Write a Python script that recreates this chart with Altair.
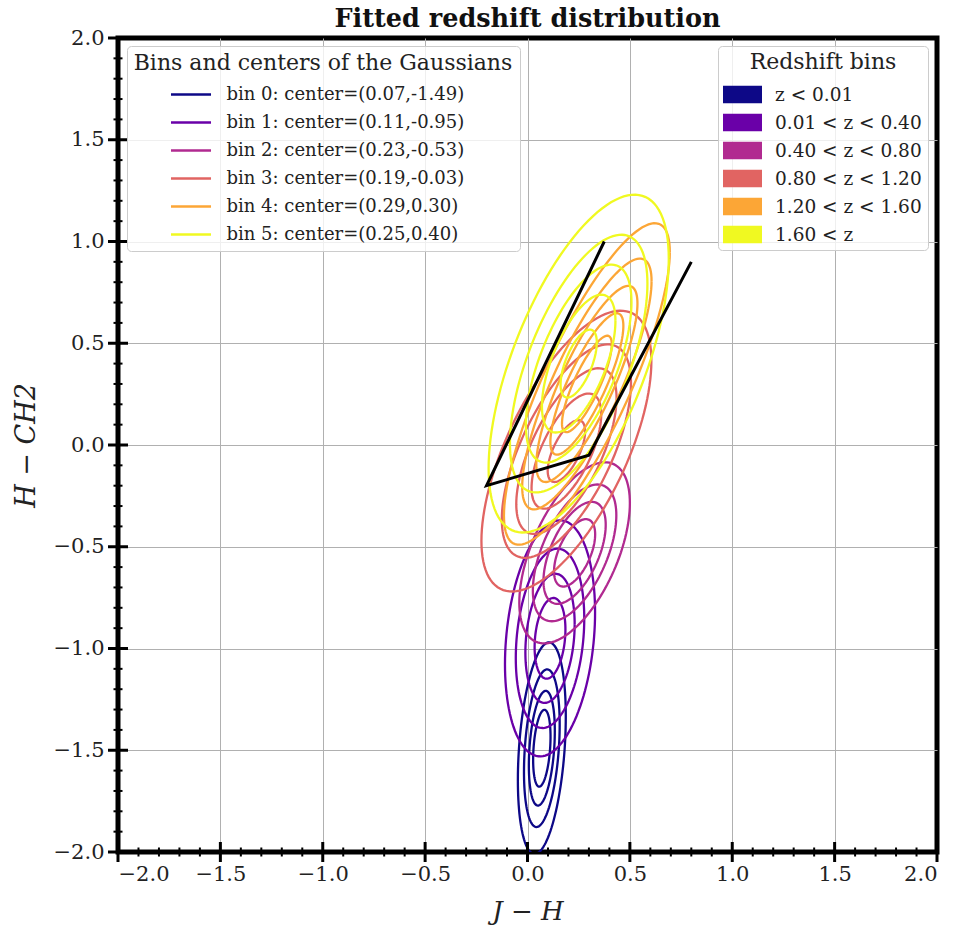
import numpy as np
import pandas as pd
import altair as alt

# ---------------- data ----------------
bin_labels = [
    "bin 0: center=(0.07,-1.49)",
    "bin 1: center=(0.11,-0.95)",
    "bin 2: center=(0.23,-0.53)",
    "bin 3: center=(0.19,-0.03)",
    "bin 4: center=(0.29,0.30)",
    "bin 5: center=(0.25,0.40)",
]
z_labels = ["z < 0.01", "0.01 < z < 0.40", "0.40 < z < 0.80",
            "0.80 < z < 1.20", "1.20 < z < 1.60", "1.60 < z"]
colors = ["#0d0887", "#6a00a8", "#b12a90", "#e16462", "#fca636", "#f0f921"]

center_x = [0.07, 0.11, 0.23, 0.19, 0.29, 0.25]
center_y = [-1.49, -0.95, -0.53, -0.03, 0.30, 0.40]
# half extents (x, y) of the outermost contour, and its tilt (correlation)
half_width = [0.117, 0.22, 0.27, 0.415, 0.405, 0.44]
half_height = [0.52, 0.58, 0.445, 0.69, 0.79, 0.83]
tilt = [0.30, 0.22, 0.55, 0.64, 0.82, 0.62]
# relative size of each contour with respect to the outermost one
contour_scales = [
    [1.0, 0.745, 0.542, 0.363],
    [1.0, 0.76, 0.547, 0.342],
    [1.0, 0.755, 0.563, 0.372],
    [1.0, 0.76, 0.59, 0.41, 0.22],
    [1.0, 0.78, 0.61, 0.44, 0.30],
    [1.0, 0.763, 0.586, 0.408, 0.201],
]

cut_x = [0.375, -0.2, 0.3, 0.8]
cut_y = [1.0, -0.2, -0.05, 0.9]

major_ticks = [-2.0, -1.5, -1.0, -0.5, 0.0, 0.5, 1.0, 1.5, 2.0]
minor_ticks = [round(-2.0 + 0.1 * k, 1) for k in range(41) if k % 5 != 0]

# ---------------- build tables ----------------
t = np.linspace(0, 2 * np.pi, 121)
rows = []
for b in range(6):
    for c, s in enumerate(contour_scales[b]):
        r = tilt[b]
        xs = center_x[b] + half_width[b] * s * np.cos(t)
        ys = center_y[b] + half_height[b] * s * (r * np.cos(t) + np.sqrt(1 - r * r) * np.sin(t))
        for i, (xx, yy) in enumerate(zip(xs, ys)):
            rows.append({"x": xx, "y": yy, "bin": bin_labels[b],
                         "contour": f"{b}-{c}", "i": b * 10000 + c * 1000 + i})
ell = pd.DataFrame(rows)

cut = pd.DataFrame({"x": cut_x, "y": cut_y, "i": list(range(len(cut_x)))})
zdf = pd.DataFrame({"x": [0.0] * 6, "y": [0.0] * 6, "z": z_labels})
maj = pd.DataFrame({"v": major_ticks})
mnr = pd.DataFrame({"v": minor_ticks})

FONT = "DejaVu Serif"
xscale = alt.Scale(domain=[-2, 2], nice=False, zero=False)
yscale = alt.Scale(domain=[-2, 2], nice=False, zero=False)

grid_color = {"condition": {"test": "abs(datum.value) >= 1.999", "value": "transparent"},
              "value": "#b0b0b0"}

axis_common = dict(values=major_ticks, format=".1f", grid=True, gridColor=grid_color,
                   gridWidth=1, ticks=False, domain=False, labelFont=FONT,
                   labelFontSize=21, labelColor="#222222", titleFont=FONT,
                   titleFontStyle="italic", titleFontWeight="normal",
                   titleColor="#222222")

ellipses = alt.Chart(ell).mark_line(strokeWidth=2.3, clip=True).encode(
    x=alt.X("x:Q", scale=xscale,
            axis=alt.Axis(title="J − H", labelPadding=11, titlePadding=14,
                          titleFontSize=26, **axis_common)),
    y=alt.Y("y:Q", scale=yscale,
            axis=alt.Axis(title="H − CH2", labelPadding=14, titlePadding=13,
                          titleFontSize=27, **axis_common)),
    stroke=alt.Stroke("bin:N", scale=alt.Scale(domain=bin_labels, range=colors),
                      legend=alt.Legend(
                          title="Bins and centers of the Gaussians", orient="none",
                          legendX=9, legendY=8, symbolType="M-1.16,0H1.16",
                          symbolSize=1190, symbolFillColor="transparent",
                          symbolStrokeWidth=2.3, symbolOffset=-9.5, labelFont=FONT,
                          labelFontSize=18, labelColor="#222222", labelLimit=0,
                          labelOffset=17, titleLimit=0,
                          titleFont=FONT, titleFontSize=22, titleFontWeight="normal",
                          titleColor="#222222", titleAnchor="middle",
                          rowPadding=0, titlePadding=1, padding=7,
                          strokeColor="#cccccc", fillColor="rgba(255,255,255,0.8)",
                          cornerRadius=4)),
    detail="contour:N",
    order="i:Q",
)

zlegend = alt.Chart(zdf).mark_point(filled=True, opacity=0).encode(
    x=alt.X("x:Q", scale=xscale),
    y=alt.Y("y:Q", scale=yscale),
    fill=alt.Fill("z:N", scale=alt.Scale(domain=z_labels, range=colors),
                  legend=alt.Legend(
                      title="Redshift bins", orient="none", legendX=600, legendY=8,
                      symbolType="M-1.054,-0.473H1.054V0.473H-1.054Z", symbolSize=1369,
                      symbolOpacity=1, symbolStrokeWidth=0, labelFont=FONT,
                      labelFontSize=18.5, labelColor="#222222", labelLimit=0,
                      labelOffset=14, titleLimit=0,
                      titleFont=FONT, titleFontSize=22, titleFontWeight="normal",
                      titleColor="#222222", titleAnchor="middle",
                      rowPadding=0, titlePadding=2, padding=6,
                      strokeColor="#cccccc", fillColor="rgba(255,255,255,0.8)",
                      cornerRadius=4)),
)

cutline = alt.Chart(cut).mark_line(color="black", strokeWidth=3).encode(
    x=alt.X("x:Q", scale=xscale), y=alt.Y("y:Q", scale=yscale), order="i:Q")

xmaj = alt.Chart(maj).mark_tick(orient="vertical", size=20, thickness=3, color="black",
                                opacity=1).encode(x=alt.X("v:Q", scale=xscale), y=alt.datum(-2))
xmin = alt.Chart(mnr).mark_tick(orient="vertical", size=9, thickness=2, color="black",
                                opacity=1).encode(x=alt.X("v:Q", scale=xscale), y=alt.datum(-2))
ymaj = alt.Chart(maj).mark_tick(orient="horizontal", size=20, thickness=3, color="black",
                                opacity=1).encode(y=alt.Y("v:Q", scale=yscale), x=alt.datum(-2))
ymin = alt.Chart(mnr).mark_tick(orient="horizontal", size=9, thickness=2, color="black",
                                opacity=1).encode(y=alt.Y("v:Q", scale=yscale), x=alt.datum(-2))

chart = alt.layer(ellipses, zlegend, cutline, xmaj, xmin, ymaj, ymin).resolve_scale(
    stroke="independent", fill="independent"
).properties(
    width=819, height=814,
    background="white",
    title=alt.Title("Fitted redshift distribution", font=FONT, fontSize=25.5,
                    fontWeight="bold", color="#111111", offset=-5, anchor="middle"),
    autosize=alt.AutoSizeParams(type="none"),
    padding={"left": 118, "top": 38, "right": 18, "bottom": 75},
).configure_view(stroke="black", strokeWidth=5)

chart.save("out.html", embed_options={"renderer": "svg", "actions": False})
